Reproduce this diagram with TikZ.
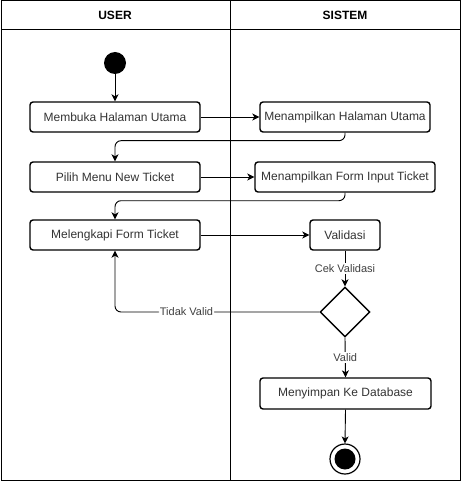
\documentclass[tikz,border=0pt]{standalone}
\usepackage{fontspec}
\setmainfont{Liberation Sans}
\usetikzlibrary{arrows.meta,shapes.geometric}
\begin{document}
\begin{tikzpicture}[x=1pt,y=-1pt,
  act/.style={draw=black,line width=1.4pt,rounded corners=3pt,minimum height=30pt,inner sep=0pt,text=black!80,font=\fontsize{12}{14}\selectfont},
  flow/.style={draw=black,line width=0.9pt,-{Stealth[length=7pt,width=7pt,inset=2pt]}},
  lbl/.style={fill=white,inner sep=1pt,text=black!75,font=\fontsize{11}{13}\selectfont},
  hdr/.style={font=\fontsize{12}{14}\selectfont\bfseries}]
\useasboundingbox (0,0) rectangle (461,481);
\draw[line width=1pt] (1,1) rectangle (460,480);
\draw[line width=1pt] (1,30) -- (460,30);
\draw[line width=1pt] (230,1) -- (230,480);
\node[hdr] (hu) at (115,15.5) {USER};
\node[hdr] (hs) at (345,15.5) {SISTEM};
\node[circle,fill=black,minimum size=22pt,inner sep=0pt] (start) at (115,63) {};
\node[act,minimum width=170pt] (a1) at (115,117) {Membuka Halaman Utama};
\node[act,minimum width=170pt] (a2) at (345,117) {Menampilkan Halaman Utama};
\node[act,minimum width=170pt] (a3) at (115,177) {Pilih Menu New Ticket};
\node[act,minimum width=180pt] (a4) at (345,177) {Menampilkan Form Input Ticket};
\node[act,minimum width=170pt] (a5) at (115,235) {Melengkapi Form Ticket};
\node[act,minimum width=70pt] (a6) at (345,235) {Validasi};
\node[diamond,draw=black,line width=1.4pt,minimum width=50pt,minimum height=50pt,inner sep=0pt] (d) at (345,312) {};
\node[act,minimum width=171pt,minimum height=31pt] (a7) at (345.5,393.5) {Menyimpan Ke Database};
\node[circle,draw=black,line width=1.2pt,minimum size=30pt,inner sep=0pt] (end) at (345,459) {};
\node[circle,fill=black,minimum size=21pt,inner sep=0pt] (endin) at (end.center) {};
\draw[flow] (start) -- (a1);
\draw[flow] (a1) -- (a2);
\draw[flow,rounded corners=6pt] (a2.south) -- ++(0,8) -| (a3.north);
\draw[flow] (a3) -- (a4);
\draw[flow,rounded corners=6pt] (a4.south) -- ++(0,8) -| (a5.north);
\draw[flow] (a5) -- (a6);
\draw[flow] (a6) -- node[lbl,pos=0.5] {Cek Validasi} (d.north);
\draw[flow,rounded corners=6pt] (d.west) -- node[lbl,pos=0.65] {Tidak Valid} (a5.south |- d.west) -- (a5.south);
\draw[flow] (d.south) -- node[lbl,pos=0.5] {Valid} (a7.north);
\draw[flow] (a7.south) -- (end.north);
\end{tikzpicture}
\end{document}
